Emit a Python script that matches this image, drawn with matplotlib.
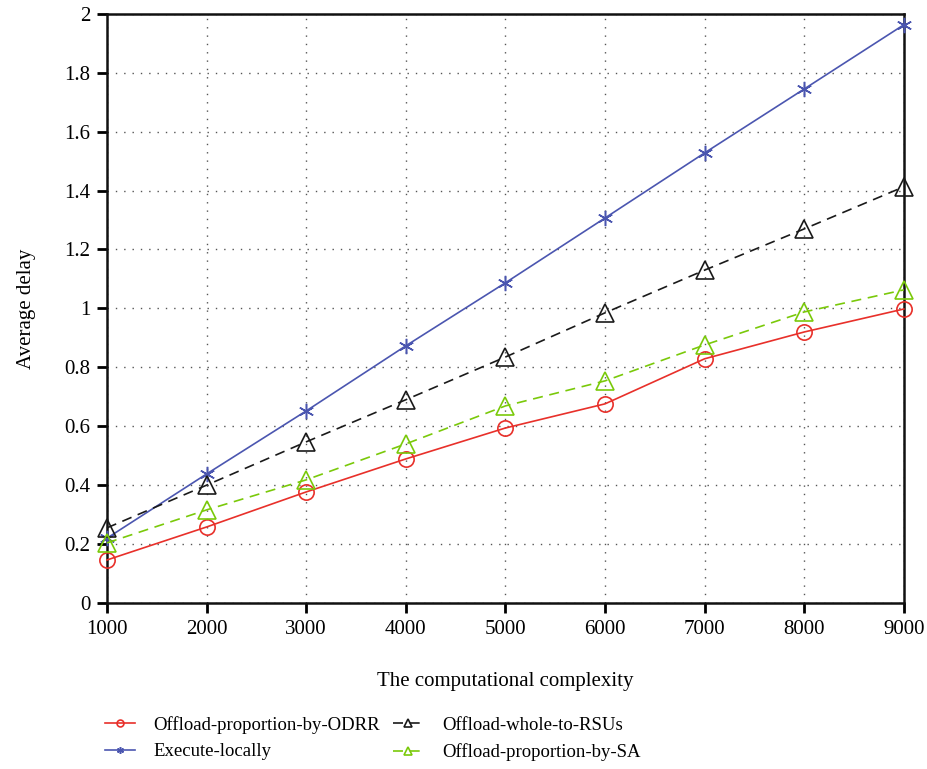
import numpy as np
import matplotlib.pyplot as plt

plt.rcParams['font.family'] = ['Liberation Serif', 'DejaVu Serif']

complexity = [1000, 2000, 3000, 4000, 5000, 6000, 7000, 8000, 9000]
odrr = [0.146, 0.258, 0.377, 0.489, 0.594, 0.676, 0.829, 0.920, 0.998]
local = [0.220, 0.438, 0.652, 0.873, 1.087, 1.307, 1.528, 1.745, 1.963]
whole_rsu = [0.255, 0.400, 0.547, 0.690, 0.835, 0.985, 1.130, 1.270, 1.413]
sa = [0.204, 0.316, 0.418, 0.540, 0.669, 0.754, 0.876, 0.988, 1.063]

fig = plt.figure(figsize=(9.28, 7.69), dpi=100)
ax = fig.add_axes([0.1153, 0.2159, 0.8587, 0.7661])

ax.plot(complexity, odrr, color='#e8302a', lw=1.2, marker='o', ms=11,
        mfc='none', mew=1.2, clip_on=False, zorder=3,
        label='Offload-proportion-by-ODRR')
ax.plot(complexity, local, color='#4b56b0', lw=1.2, marker=(6, 2, 0), ms=11,
        mew=1.1, clip_on=False, zorder=3, label='Execute-locally')
ax.plot(complexity, whole_rsu, color='#1a1a1a', lw=1.2, ls=(0, (6, 4)),
        marker='^', ms=13, mfc='none', mew=1.2, clip_on=False, zorder=3,
        label='Offload-whole-to-RSUs')
ax.plot(complexity, sa, color='#7ac90a', lw=1.2, ls=(0, (6, 4)),
        marker='^', ms=13, mfc='none', mew=1.2, clip_on=False, zorder=3,
        label='Offload-proportion-by-SA')

ax.set_xlim(1000, 9000)
ax.set_ylim(0, 2)
ax.set_xticks(complexity)
ax.set_yticks(np.arange(0, 2.01, 0.2))
ax.set_yticklabels(['0', '0.2', '0.4', '0.6', '0.8', '1', '1.2', '1.4', '1.6', '1.8', '2'])
ax.tick_params(direction='out', length=7, width=2, labelsize=15, pad=5)
ax.grid(True, ls=(0, (1, 5)), color='#555555', lw=1.0)
for s in ax.spines.values():
    s.set_linewidth(1.8)
    s.set_color('#111111')

ax.set_xlabel('The computational complexity', fontsize=15, labelpad=24)
ax.set_ylabel('Average delay', fontsize=15, labelpad=20)

h, l = ax.get_legend_handles_labels()
leg = fig.legend(h, l, loc='upper left', bbox_to_anchor=(0.113, 0.069), ncol=2,
                 frameon=False, fontsize=13.5, markerscale=0.45,
                 borderpad=0, borderaxespad=0,
                 handlelength=1.6, handletextpad=1.0,
                 columnspacing=0.7, labelspacing=0.5)

fig.savefig('out.png', dpi=100)
